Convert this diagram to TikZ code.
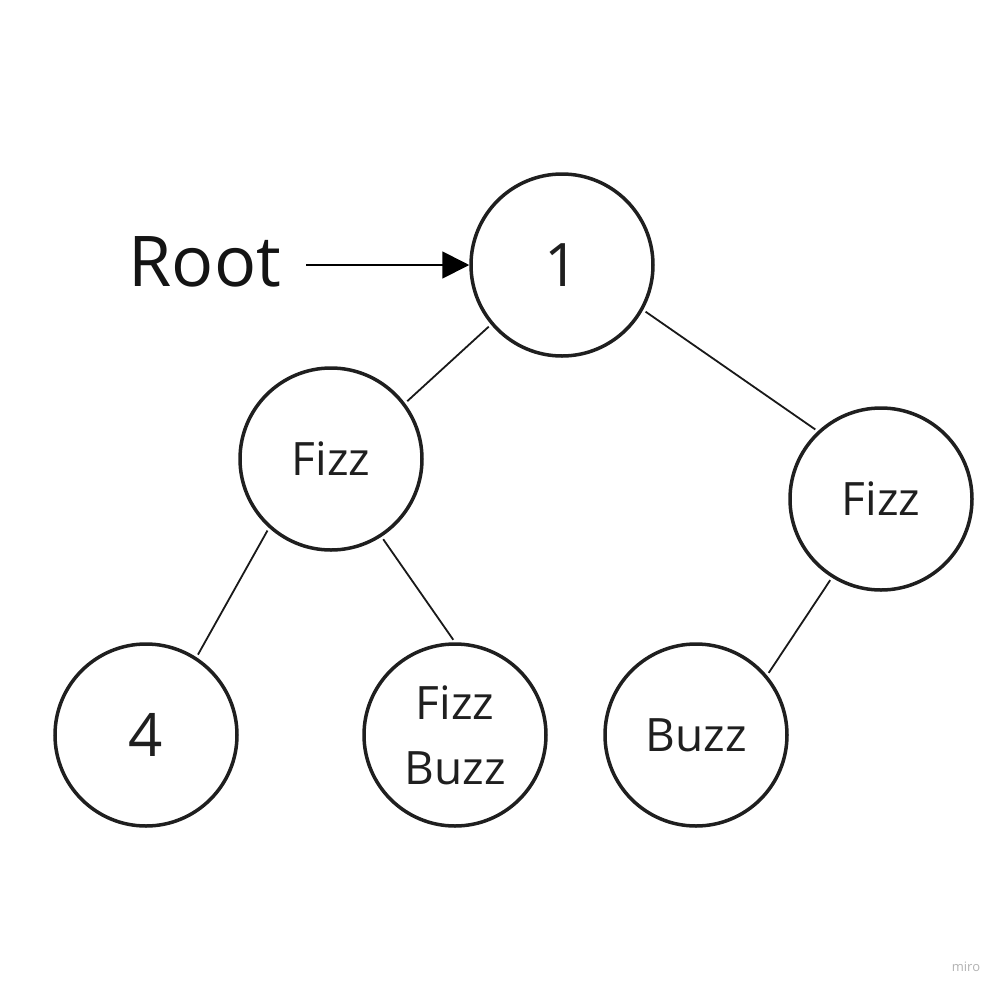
\documentclass[tikz,border=0pt]{standalone}
\usepackage{fontspec}
\setmainfont{Open Sans}
\usetikzlibrary{%
  arrows.meta% Triangle tip
}

\begin{document}
\begin{tikzpicture}[x=1pt,y=1pt,treenode/.style={
	circle,
	minimum size=182pt,
	inner sep=0pt,
	line width=3.5pt,
	draw=black!88,
	text=black!88,
	align=center,
	font=\fontsize{46}{65}\selectfont
	},bignum/.style={
	font=\fontsize{60}{72}\selectfont
	},branch/.style={
	line width=1.8pt,draw=black!90,
	shorten <=3pt,shorten >=3pt
	},pointer/.style={
	line width=1.8pt,draw=black,
	-{Triangle[length=27pt,width=27pt]}
	},roottext/.style={
	inner sep=0pt,text=black!92,
	font=\fontsize{70}{84}\selectfont
	},watermark/.style={
	inner sep=0pt,text=black!30,
	font=\fontsize{13}{15}\selectfont
	}
]

\useasboundingbox (0,0) rectangle (1005,-994);

% the tree
\node (one)      [treenode,bignum] at (562,-265) {1};
\node (fizzL)    [treenode] at (331,-459) {Fizz};
\node (fizzR)    [treenode] at (881,-499) {Fizz};
\node (four)     [treenode,bignum] at (146,-735) {4};
\node (fizzbuzz) [treenode] at (455,-735) {Fizz\\Buzz};
\node (buzz)     [treenode] at (696,-735) {Buzz};

% pointer to the root
\node (root) [roottext] at (205,-262) {Root};
\node (miro) [watermark] at (966,-967) {miro};

\path	(one.-140)  edge[branch] (fizzL.37)
	(one.-29)   edge[branch] (fizzR.133)
	(fizzL.-132) edge[branch] (four.57)
	(fizzL.-57) edge[branch] (fizzbuzz.90)
	(fizzR.-122) edge[branch] (buzz.40);
\draw[pointer] ([xshift=25pt]root.east |- one.west) -- (one.west);

\end{tikzpicture}
\end{document}
